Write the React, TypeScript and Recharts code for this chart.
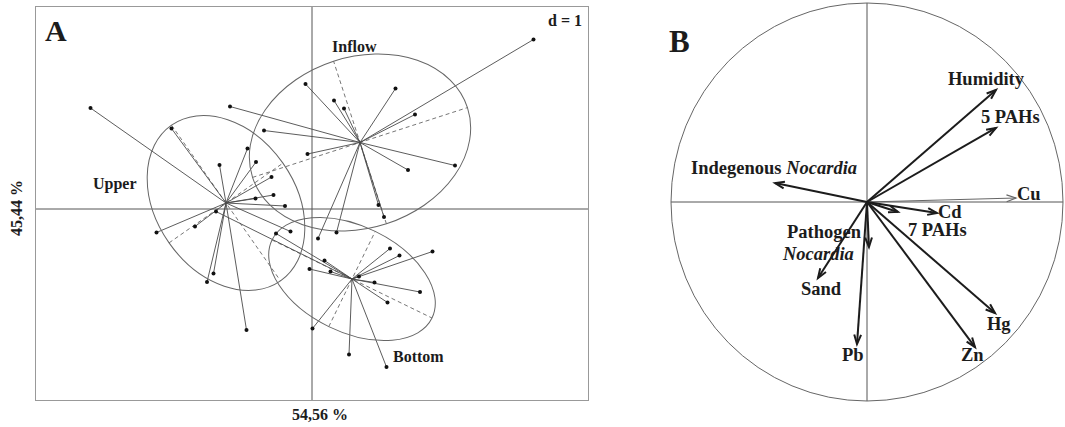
import React from 'react';
import { ScatterChart, Scatter, XAxis, YAxis, ReferenceLine, ReferenceDot } from 'recharts';

// ---- Panel A : class scores (PC1 54,56 %, PC2 45,44 %) ----
const upperCenter = { x: -1.72, y: 0.12 };
const inflowCenter = { x: 0.96, y: 1.33 };
const bottomCenter = { x: 0.8, y: -1.4 };

const upperPoints = [
  { x: -4.43, y: 2.02 }, { x: -2.81, y: 1.61 }, { x: -1.85, y: 0.88 }, { x: -1.29, y: 1.21 },
  { x: -1.12, y: 0.94 }, { x: -0.81, y: 0.64 }, { x: -0.77, y: 0.28 }, { x: -1.13, y: 0.21 },
  { x: -0.54, y: 0.06 }, { x: -2.34, y: -0.35 }, { x: -3.11, y: -0.47 }, { x: -1.97, y: -1.29 },
  { x: -2.1, y: -1.46 }, { x: -1.31, y: -2.42 }, { x: -0.43, y: -0.45 },
];

const inflowPoints = [
  { x: 4.43, y: 3.39 }, { x: -0.13, y: 2.5 }, { x: 0.64, y: 2.01 }, { x: 0.44, y: 2.17 },
  { x: 1.67, y: 2.41 }, { x: 2.06, y: 1.89 }, { x: 2.86, y: 0.87 }, { x: 1.92, y: 0.78 },
  { x: -0.09, y: 1.1 }, { x: -0.96, y: 1.57 }, { x: -1.64, y: 2.05 }, { x: 1.33, y: 0.08 },
  { x: 1.44, y: -0.16 }, { x: 0.12, y: -0.59 }, { x: 0.49, y: -0.47 },
];

const bottomPoints = [
  { x: 1.56, y: -0.79 }, { x: 1.75, y: -0.93 }, { x: 2.41, y: -0.85 }, { x: 0.94, y: -1.35 },
  { x: 1.25, y: -1.47 }, { x: 2.16, y: -1.66 }, { x: 1.51, y: -1.87 }, { x: 0.74, y: -2.91 },
  { x: 1.49, y: -3.16 }, { x: 0.01, y: -2.39 }, { x: 0.25, y: -1.03 }, { x: -0.05, y: -1.2 },
  { x: 0.37, y: -1.25 }, { x: -1.92, y: -0.05 }, { x: -0.72, y: -0.49 },
];

// inertia ellipses: semi-axes and major axis angle (degrees, counter-clockwise)
const upperEllipse = { a: 1.9, b: 1.39, angle: -55 };
const inflowEllipse = { a: 2.26, b: 1.71, angle: 18 };
const bottomEllipse = { a: 1.78, b: 1.06, angle: -26 };

// ---- Panel B : correlation circle ----
const variables = ['Humidity', '5 PAHs', 'Indegenous Nocardia', 'Cu', 'Cd', '7 PAHs', 'Pathogen Nocardia', 'Sand', 'Pb', 'Zn', 'Hg'];
const loadX = [0.658, 0.658, -0.469, 0.76, 0.357, 0.158, 0.01, -0.25, -0.051, 0.551, 0.653];
const loadY = [0.563, 0.372, 0.095, 0.02, -0.055, -0.05, -0.226, -0.382, -0.714, -0.729, -0.558];

// chart geometry
const A_LEFT = 35, A_TOP = 6, A_W = 554, A_H = 395, A_M = 1;
const A_XDOM: [number, number] = [-5.52, 5.52];
const A_YDOM: [number, number] = [-3.82, 4.04];
const A_PX = (A_W - 2 * A_M) / (A_XDOM[1] - A_XDOM[0]);

const B_LEFT = 668, B_TOP = 0, B_W = 397, B_H = 404;
const B_MARGIN = { top: 3, right: 2, bottom: 3, left: 3 };
const B_PX_X = (B_W - B_MARGIN.left - B_MARGIN.right) / 2;
const B_PX_Y = (B_H - B_MARGIN.top - B_MARGIN.bottom) / 2;

const FONT = "'Liberation Serif', 'Times New Roman', serif";
const INK = '#1c1c1c';

// label placement relative to arrow tip (px)
const labelOffset: Record<string, { dx: number; dy: number }> = {
  Humidity: { dx: -48, dy: -11 },
  '5 PAHs': { dx: -15, dy: -11 },
  'Indegenous Nocardia': { dx: -84, dy: -15 },
  Cu: { dx: 1, dy: -4 },
  Cd: { dx: 1, dy: -1 },
  '7 PAHs': { dx: 10, dy: 18 },
  'Pathogen Nocardia': { dx: -82, dy: -15 },
  Sand: { dx: -17, dy: 11 },
  Pb: { dx: -15, dy: 11 },
  Zn: { dx: -14, dy: 8 },
  Hg: { dx: -8, dy: 11 },
};
const thinArrows = ['Cu'];

const groups = [
  { center: upperCenter, points: upperPoints, ell: upperEllipse },
  { center: inflowCenter, points: inflowPoints, ell: inflowEllipse },
  { center: bottomCenter, points: bottomPoints, ell: bottomEllipse },
];

const arrowData = variables.map((name, i) => ({ name, x: loadX[i], y: loadY[i] }));

const Dot = (p: any) => <circle cx={p.cx} cy={p.cy} r={2} fill="#111" />;

const ArrowTip = (p: any) => {
  const { cx, cy, payload } = p;
  const name: string = payload.name;
  const thin = thinArrows.includes(name);
  const ang = Math.atan2(-payload.y * B_PX_Y, payload.x * B_PX_X);
  const L = 10, h = (20 * Math.PI) / 180;
  const p1 = [cx - L * Math.cos(ang - h), cy - L * Math.sin(ang - h)];
  const p2 = [cx - L * Math.cos(ang + h), cy - L * Math.sin(ang + h)];
  const off = labelOffset[name];
  const tx = cx + off.dx, ty = cy + off.dy;
  let label: React.ReactNode;
  if (name === 'Indegenous Nocardia') {
    label = (
      <text x={tx} y={ty} dominantBaseline="central">
        Indegenous <tspan fontStyle="italic">Nocardia</tspan>
      </text>
    );
  } else if (name === 'Pathogen Nocardia') {
    label = (
      <>
        <text x={tx} y={ty} dominantBaseline="central">Pathogen</text>
        <text x={tx - 4} y={ty + 22.5} dominantBaseline="central" fontStyle="italic">Nocardia</text>
      </>
    );
  } else {
    label = <text x={tx} y={ty} dominantBaseline="central">{name}</text>;
  }
  return (
    <g>
      <polyline
        points={`${p1[0]},${p1[1]} ${cx},${cy} ${p2[0]},${p2[1]}`}
        fill="none"
        stroke={thin ? '#666' : INK}
        strokeWidth={thin ? 1.2 : 2}
      />
      <g fontFamily={FONT} fontWeight="bold" fontSize={18.5} fill={INK}>{label}</g>
    </g>
  );
};

const PanelA = () => (
  <ScatterChart width={A_W} height={A_H} margin={{ top: A_M, right: A_M, bottom: A_M, left: A_M }}>
    <XAxis type="number" dataKey="x" domain={A_XDOM} hide allowDataOverflow />
    <YAxis type="number" dataKey="y" domain={A_YDOM} hide allowDataOverflow />
    <ReferenceLine x={0} stroke="#555" strokeWidth={1} />
    <ReferenceLine y={0} stroke="#555" strokeWidth={1} />
    {groups.map((g, gi) => (
      <ReferenceDot
        key={'e' + gi}
        x={g.center.x}
        y={g.center.y}
        r={1}
        shape={(p: any) => (
          <ellipse
            cx={p.cx}
            cy={p.cy}
            rx={g.ell.a * A_PX}
            ry={g.ell.b * A_PX}
            transform={`rotate(${-g.ell.angle} ${p.cx} ${p.cy})`}
            fill="none"
            stroke="#666"
            strokeWidth={1}
          />
        )}
      />
    ))}
    {groups.map((g, gi) => {
      const t = (g.ell.angle * Math.PI) / 180;
      const ux = Math.cos(t), uy = Math.sin(t);
      const c = g.center;
      return [
        <ReferenceLine
          key={'ma' + gi}
          segment={[{ x: c.x - g.ell.a * ux, y: c.y - g.ell.a * uy }, { x: c.x + g.ell.a * ux, y: c.y + g.ell.a * uy }]}
          stroke="#777"
          strokeDasharray="4 3"
        />,
        <ReferenceLine
          key={'mi' + gi}
          segment={[{ x: c.x + g.ell.b * uy, y: c.y - g.ell.b * ux }, { x: c.x - g.ell.b * uy, y: c.y + g.ell.b * ux }]}
          stroke="#777"
          strokeDasharray="4 3"
        />,
      ];
    })}
    {groups.map((g, gi) =>
      g.points.map((pt, i) => (
        <ReferenceLine key={`s${gi}-${i}`} segment={[g.center, pt]} stroke="#4a4a4a" strokeWidth={0.9} />
      ))
    )}
    <Scatter data={upperPoints} shape={Dot} isAnimationActive={false} />
    <Scatter data={inflowPoints} shape={Dot} isAnimationActive={false} />
    <Scatter data={bottomPoints} shape={Dot} isAnimationActive={false} />
  </ScatterChart>
);

const PanelB = () => (
  <ScatterChart width={B_W} height={B_H} margin={B_MARGIN}>
    <XAxis type="number" dataKey="x" domain={[-1, 1]} hide allowDataOverflow />
    <YAxis type="number" dataKey="y" domain={[-1, 1]} hide allowDataOverflow />
    <ReferenceDot
      x={0}
      y={0}
      r={1}
      shape={(p: any) => (
        <ellipse cx={p.cx} cy={p.cy} rx={B_PX_X} ry={B_PX_Y} fill="none" stroke="#666" strokeWidth={1} />
      )}
    />
    <ReferenceLine x={0} stroke="#555" strokeWidth={1} />
    <ReferenceLine y={0} stroke="#555" strokeWidth={1} />
    {arrowData.map((d) => (
      <ReferenceLine
        key={'l' + d.name}
        segment={[{ x: 0, y: 0 }, { x: d.x, y: d.y }]}
        stroke={thinArrows.includes(d.name) ? '#666' : INK}
        strokeWidth={thinArrows.includes(d.name) ? 1.2 : 2}
      />
    ))}
    <Scatter data={arrowData} shape={ArrowTip} isAnimationActive={false} />
  </ScatterChart>
);

export default function App() {
  const txt = { fontFamily: FONT, fontWeight: 'bold' as const, fill: INK };
  return (
    <div style={{ position: 'absolute', left: 0, top: 0, width: 1065, height: 427, background: '#fff', overflow: 'hidden' }}>
      <div
        style={{
          position: 'absolute', left: A_LEFT, top: A_TOP, width: A_W, height: A_H,
          border: '1px solid #999', boxSizing: 'border-box',
        }}
      />
      <div style={{ position: 'absolute', left: A_LEFT, top: A_TOP }}>
        <PanelA />
      </div>
      <div style={{ position: 'absolute', left: B_LEFT, top: B_TOP }}>
        <PanelB />
      </div>
      <svg width={1065} height={427} style={{ position: 'absolute', left: 0, top: 0, pointerEvents: 'none' }}>
        <text x={45} y={41} fontSize={30} {...txt}>A</text>
        <text x={669} y={52} fontSize={31} {...txt}>B</text>
        <text x={548} y={26} fontSize={16} {...txt}>d = 1</text>
        <text x={93} y={189} fontSize={16} {...txt}>Upper</text>
        <text x={332} y={52} fontSize={16} {...txt}>Inflow</text>
        <text x={393} y={362} fontSize={16} {...txt}>Bottom</text>
        <text x={320} y={420} fontSize={16} textAnchor="middle" {...txt}>54,56 %</text>
        <text x={22} y={208} fontSize={16} textAnchor="middle" transform="rotate(-90 22 208)" {...txt}>45,44 %</text>
      </svg>
    </div>
  );
}
